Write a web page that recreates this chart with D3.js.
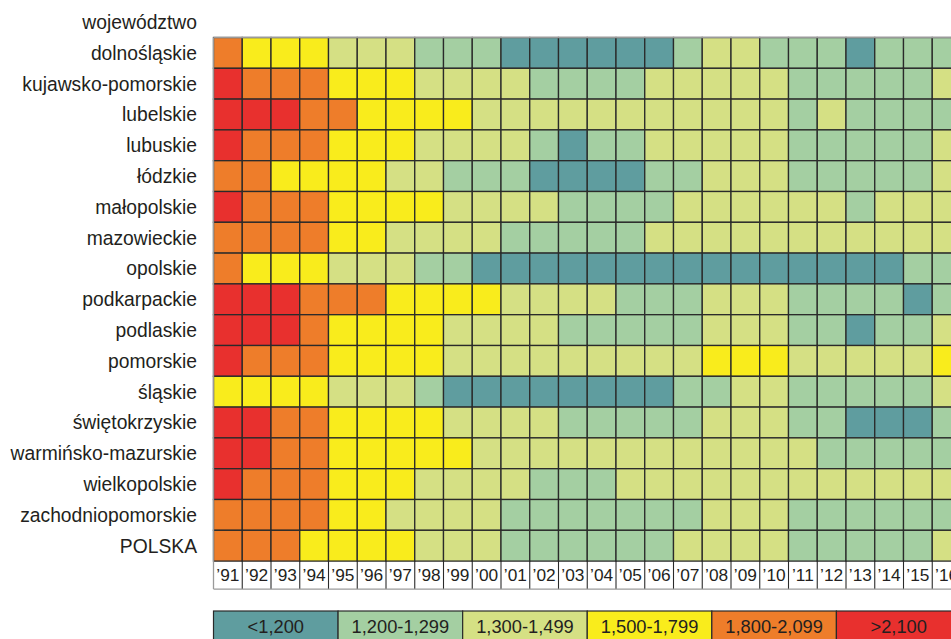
<!DOCTYPE html>
<html>
<head>
<meta charset="utf-8">
<script src="https://cdn.jsdelivr.net/npm/d3@7"></script>
<style>
  html, body { margin: 0; padding: 0; background: #ffffff; }
  svg { display: block; }
  text { font-family: "Liberation Sans", Arial, Helvetica, sans-serif; fill: #231f20; }
</style>
</head>
<body>
<svg id="chart" width="951" height="639"></svg>
<script>
// ---- data ----
const headerLabel = "województwo";
const years = ["'91","'92","'93","'94","'95","'96","'97","'98","'99","'00","'01","'02","'03","'04","'05","'06","'07","'08","'09","'10","'11","'12","'13","'14","'15","'16"];
const regions = ["dolnośląskie","kujawsko-pomorskie","lubelskie","lubuskie","łódzkie","małopolskie","mazowieckie","opolskie","podkarpackie","podlaskie","pomorskie","śląskie","świętokrzyskie","warmińsko-mazurskie","wielkopolskie","zachodniopomorskie","POLSKA"];

// estimated values per region, '91 … '16
const dolnoslaskie       = [1950,1650,1650,1650,1400,1400,1400,1250,1250,1250,1150,1150,1150,1150,1150,1150,1250,1400,1400,1250,1250,1250,1150,1250,1250,1250];
const kujawskoPomorskie  = [2200,1950,1950,1950,1650,1650,1650,1400,1400,1400,1400,1250,1250,1250,1250,1400,1400,1400,1400,1400,1250,1250,1250,1250,1250,1400];
const lubelskie          = [2200,2200,2200,1950,1950,1650,1650,1650,1650,1400,1400,1400,1400,1400,1400,1400,1400,1400,1400,1400,1250,1400,1250,1250,1250,1250];
const lubuskie           = [2200,1950,1950,1950,1650,1650,1650,1400,1400,1400,1400,1250,1150,1250,1250,1400,1400,1400,1400,1400,1250,1250,1250,1250,1250,1400];
const lodzkie            = [1950,1950,1650,1650,1650,1650,1400,1400,1250,1250,1250,1150,1150,1150,1150,1250,1250,1400,1400,1400,1250,1250,1250,1250,1250,1400];
const malopolskie        = [2200,1950,1950,1950,1650,1650,1650,1650,1400,1400,1400,1400,1250,1250,1250,1250,1400,1400,1400,1400,1400,1400,1250,1400,1400,1400];
const mazowieckie        = [1950,1950,1950,1950,1650,1650,1400,1400,1400,1400,1250,1250,1250,1250,1250,1400,1400,1400,1400,1400,1400,1400,1400,1400,1400,1400];
const opolskie           = [1950,1650,1650,1650,1400,1400,1400,1250,1250,1150,1150,1150,1150,1150,1150,1150,1150,1150,1150,1150,1150,1150,1150,1150,1250,1250];
const podkarpackie       = [2200,2200,2200,1950,1950,1950,1650,1650,1650,1650,1400,1400,1400,1400,1250,1250,1250,1400,1400,1400,1250,1250,1250,1250,1150,1250];
const podlaskie          = [2200,2200,2200,1950,1650,1650,1650,1650,1400,1400,1400,1400,1250,1250,1250,1250,1250,1400,1400,1400,1250,1250,1150,1250,1250,1400];
const pomorskie          = [2200,1950,1950,1950,1650,1650,1650,1650,1400,1400,1400,1400,1400,1400,1400,1400,1400,1650,1650,1650,1400,1400,1400,1400,1400,1650];
const slaskie            = [1650,1650,1650,1650,1400,1400,1400,1250,1150,1150,1150,1150,1150,1150,1150,1150,1250,1250,1400,1400,1250,1250,1250,1250,1250,1400];
const swietokrzyskie     = [2200,2200,1950,1950,1650,1650,1650,1650,1400,1400,1400,1400,1250,1250,1250,1250,1250,1400,1400,1400,1250,1250,1150,1150,1150,1250];
const warminskoMazurskie = [2200,2200,1950,1950,1650,1650,1650,1650,1650,1400,1400,1400,1400,1400,1400,1400,1400,1400,1400,1400,1400,1250,1250,1250,1250,1250];
const wielkopolskie      = [2200,1950,1950,1950,1650,1650,1650,1400,1400,1400,1400,1250,1250,1250,1400,1400,1400,1400,1400,1400,1400,1400,1400,1400,1400,1400];
const zachodniopomorskie = [1950,1950,1950,1950,1650,1650,1400,1400,1400,1400,1250,1250,1250,1250,1250,1250,1250,1400,1400,1400,1250,1250,1250,1250,1250,1250];
const polska             = [1950,1950,1950,1650,1650,1650,1650,1400,1400,1400,1250,1250,1250,1250,1250,1250,1400,1400,1400,1400,1250,1250,1250,1250,1250,1400];

const seriesValues = [dolnoslaskie,kujawskoPomorskie,lubelskie,lubuskie,lodzkie,malopolskie,mazowieckie,opolskie,podkarpackie,podlaskie,pomorskie,slaskie,swietokrzyskie,warminskoMazurskie,wielkopolskie,zachodniopomorskie,polska];

const thresholds = [1200,1300,1500,1800,2100];
const legendLabels = ["<1,200","1,200-1,299","1,300-1,499","1,500-1,799","1,800-2,099",">2,100"];
const classColors = ["#5f9d9f","#a4cfa2","#d5e084","#f9ec1c","#ee7d2a","#e8302e"];

// ---- layout ----
const svg = d3.select("#chart");
const gridLeft = 213.5, gridRight = 961, gridTop = 37.5, gridBottom = 561.1;
const labelRowH = 28;
const legendTop = 611, legendH = 30;

const x = d3.scaleBand().domain(years).range([gridLeft, gridRight]).padding(0);
const y = d3.scaleBand().domain(regions).range([gridTop, gridBottom]).padding(0);
const color = d3.scaleThreshold().domain(thresholds).range(classColors);

const cells = [];
regions.forEach((r, i) => years.forEach((yr, j) => cells.push({region: r, year: yr, value: seriesValues[i][j]})));

// cells
svg.append("g").selectAll("rect").data(cells).join("rect")
  .attr("x", d => x(d.year))
  .attr("y", d => y(d.region))
  .attr("width", x.bandwidth())
  .attr("height", y.bandwidth())
  .attr("fill", d => color(d.value))
  .attr("stroke", "#2a2a2a")
  .attr("stroke-width", 1.3);

// outer grey edges (top & left)
svg.append("line").attr("x1", gridLeft).attr("x2", gridRight).attr("y1", gridTop).attr("y2", gridTop)
  .attr("stroke", "#9a9a9a").attr("stroke-width", 1.3);
svg.append("line").attr("x1", gridLeft).attr("x2", gridLeft).attr("y1", gridTop).attr("y2", gridBottom + labelRowH)
  .attr("stroke", "#9a9a9a").attr("stroke-width", 1.3);

// row labels
const rowFont = 19.3;
const rowLabels = svg.append("g");
rowLabels.append("text")
  .attr("x", 197).attr("y", gridTop - y.bandwidth() / 2 + 6.8)
  .attr("text-anchor", "end").attr("font-size", rowFont)
  .text(headerLabel);
rowLabels.selectAll("text.row").data(regions).join("text").attr("class", "row")
  .attr("x", 197)
  .attr("y", d => y(d) + y.bandwidth() / 2 + 6.8)
  .attr("text-anchor", "end").attr("font-size", rowFont)
  .text(d => d);

// year label row
const yearRow = svg.append("g");
yearRow.selectAll("line.sep").data(years.slice(1)).join("line").attr("class", "sep")
  .attr("x1", d => x(d)).attr("x2", d => x(d))
  .attr("y1", gridBottom).attr("y2", gridBottom + labelRowH)
  .attr("stroke", "#2a2a2a").attr("stroke-width", 1.1);
yearRow.append("line").attr("x1", gridLeft).attr("x2", gridRight)
  .attr("y1", gridBottom + labelRowH).attr("y2", gridBottom + labelRowH)
  .attr("stroke", "#9a9a9a").attr("stroke-width", 1.2);
yearRow.selectAll("text").data(years).join("text")
  .attr("x", d => x(d) + x.bandwidth() / 2)
  .attr("y", 581.3)
  .attr("text-anchor", "middle").attr("font-size", 17.3)
  .text(d => d.replace("'", "\u2019"));

// legend
const lx = d3.scaleBand().domain(legendLabels).range([gridLeft, gridRight]).padding(0);
const legend = svg.append("g");
legend.selectAll("rect").data(legendLabels).join("rect")
  .attr("x", d => lx(d)).attr("y", legendTop)
  .attr("width", lx.bandwidth()).attr("height", legendH)
  .attr("fill", (d, i) => classColors[i])
  .attr("stroke", "#2a2a2a").attr("stroke-width", 1.2);
legend.selectAll("text").data(legendLabels).join("text")
  .attr("x", d => lx(d) + lx.bandwidth() / 2)
  .attr("y", 633.3)
  .attr("text-anchor", "middle").attr("font-size", 18.3)
  .text(d => d);
</script>
</body>
</html>
